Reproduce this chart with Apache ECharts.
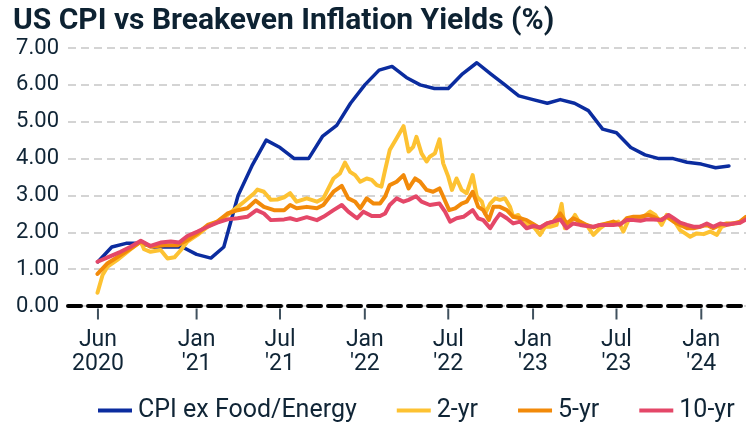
<!DOCTYPE html>
<html>
<head>
<meta charset="utf-8">
<script src="https://cdn.jsdelivr.net/npm/echarts@6/dist/echarts.min.js"></script>
<style>
  html, body { margin: 0; padding: 0; background: #ffffff; }
  #chart { width: 746px; height: 426px; }
</style>
</head>
<body>
<div id="chart"></div>
<script>
// Core CPI, year-over-year %, monthly
const cpiMonths = [
  '2020-06-01','2020-07-01','2020-08-01','2020-09-01','2020-10-01','2020-11-01','2020-12-01',
  '2021-01-01','2021-02-01','2021-03-01','2021-04-01','2021-05-01','2021-06-01','2021-07-01',
  '2021-08-01','2021-09-01','2021-10-01','2021-11-01','2021-12-01',
  '2022-01-01','2022-02-01','2022-03-01','2022-04-01','2022-05-01','2022-06-01','2022-07-01',
  '2022-08-01','2022-09-01','2022-10-01','2022-11-01','2022-12-01',
  '2023-01-01','2023-02-01','2023-03-01','2023-04-01','2023-05-01','2023-06-01','2023-07-01',
  '2023-08-01','2023-09-01','2023-10-01','2023-11-01','2023-12-01',
  '2024-01-01','2024-02-01','2024-03-01'
];
const cpiValues = [
  1.2, 1.6, 1.7, 1.7, 1.6, 1.6, 1.6,
  1.4, 1.3, 1.6, 3.0, 3.8, 4.5, 4.3, 4.0, 4.0, 4.6, 4.9, 5.5,
  6.0, 6.4, 6.5, 6.2, 6.0, 5.9, 5.9, 6.3, 6.6, 6.3, 6.0, 5.7,
  5.6, 5.5, 5.6, 5.5, 5.3, 4.8, 4.7, 4.3, 4.1, 4.0, 4.0, 3.9,
  3.85, 3.75, 3.8
];

// Breakeven inflation yields, %  [date, value]
const be2yr = [
  ['2020-05-31',0.36],['2020-06-11',0.84],['2020-06-22',1.07],['2020-07-13',1.25],['2020-08-11',1.54],
  ['2020-09-02',1.75],['2020-09-09',1.54],['2020-09-23',1.47],['2020-10-15',1.52],['2020-10-30',1.29],
  ['2020-11-14',1.32],['2020-11-28',1.52],['2020-12-12',1.75],['2021-01-03',1.93],['2021-01-25',2.15],
  ['2021-02-15',2.29],['2021-03-09',2.47],['2021-03-31',2.69],['2021-04-14',2.83],['2021-05-06',3.06],
  ['2021-05-13',3.16],['2021-05-27',3.10],['2021-06-11',2.88],['2021-06-25',2.89],['2021-07-10',2.95],
  ['2021-07-23',3.06],['2021-08-06',2.83],['2021-08-28',2.92],['2021-09-19',2.83],['2021-10-03',2.92],
  ['2021-10-25',3.46],['2021-11-08',3.60],['2021-11-19',3.89],['2021-11-30',3.64],['2021-12-11',3.55],
  ['2021-12-22',3.37],['2022-01-05',3.46],['2022-01-16',3.42],['2022-01-27',3.28],['2022-02-06',3.24],
  ['2022-02-14',3.69],['2022-02-24',4.23],['2022-03-11',4.55],['2022-03-26',4.88],['2022-04-06',4.19],
  ['2022-04-16',4.32],['2022-04-23',4.59],['2022-05-04',4.14],['2022-05-15',3.92],['2022-05-22',4.05],
  ['2022-06-02',4.14],['2022-06-12',4.52],['2022-06-20',3.87],['2022-07-01',3.51],['2022-07-09',3.15],
  ['2022-07-19',3.46],['2022-07-30',3.15],['2022-08-10',3.06],['2022-08-23',3.55],['2022-09-01',2.97],
  ['2022-09-12',2.83],['2022-09-19',2.51],['2022-09-30',2.78],['2022-10-11',2.92],['2022-10-21',2.88],
  ['2022-11-01',2.92],['2022-11-12',2.69],['2022-11-19',2.42],['2022-11-30',2.47],['2022-12-11',2.24],
  ['2022-12-26',2.20],['2023-01-05',2.11],['2023-01-16',1.93],['2023-01-27',2.15],['2023-02-07',2.15],
  ['2023-02-21',2.20],['2023-03-04',2.77],['2023-03-11',2.11],['2023-03-22',2.24],['2023-04-02',2.47],
  ['2023-04-13',2.24],['2023-04-27',2.20],['2023-05-12',1.93],['2023-05-26',2.11],['2023-06-10',2.24],
  ['2023-06-24',2.24],['2023-07-05',2.29],['2023-07-16',2.02],['2023-07-27',2.33],['2023-08-14',2.38],
  ['2023-08-29',2.42],['2023-09-12',2.56],['2023-09-23',2.47],['2023-10-07',2.20],['2023-10-18',2.47],
  ['2023-11-02',2.33],['2023-11-16',2.06],['2023-11-27',1.97],['2023-12-08',1.88],['2023-12-22',1.97],
  ['2024-01-06',1.95],['2024-01-20',2.02],['2024-02-04',1.93],['2024-02-14',2.15],['2024-02-25',2.20],
  ['2024-03-11',2.24],['2024-03-25',2.26],['2024-04-07',2.41]
];
const be5yr = [
  ['2020-05-31',0.87],['2020-06-22',1.16],['2020-07-20',1.38],['2020-08-11',1.56],['2020-09-02',1.75],
  ['2020-09-23',1.61],['2020-10-23',1.65],['2020-11-21',1.65],['2020-12-12',1.79],['2021-01-03',1.97],
  ['2021-01-25',2.20],['2021-02-15',2.29],['2021-03-09',2.51],['2021-03-31',2.60],['2021-04-21',2.65],
  ['2021-05-09',2.86],['2021-05-27',2.69],['2021-06-18',2.60],['2021-07-10',2.60],['2021-07-23',2.74],
  ['2021-08-06',2.65],['2021-08-28',2.69],['2021-09-19',2.65],['2021-10-03',2.74],['2021-10-25',3.10],
  ['2021-11-12',3.26],['2021-11-26',2.92],['2021-12-11',2.83],['2021-12-22',2.65],['2022-01-05',2.92],
  ['2022-01-20',2.78],['2022-02-03',2.78],['2022-02-14',2.97],['2022-02-24',3.28],['2022-03-11',3.37],
  ['2022-03-26',3.55],['2022-04-06',3.19],['2022-04-20',3.46],['2022-05-01',3.37],['2022-05-15',3.15],
  ['2022-05-29',3.10],['2022-06-12',3.19],['2022-06-20',2.97],['2022-07-03',2.60],['2022-07-16',2.65],
  ['2022-07-30',2.78],['2022-08-10',2.83],['2022-08-23',3.10],['2022-09-04',2.69],['2022-09-15',2.60],
  ['2022-09-27',2.33],['2022-10-07',2.69],['2022-10-21',2.69],['2022-11-05',2.60],['2022-11-19',2.42],
  ['2022-12-04',2.38],['2022-12-18',2.33],['2023-01-02',2.22],['2023-01-16',2.11],['2023-01-31',2.24],
  ['2023-02-14',2.29],['2023-03-01',2.51],['2023-03-15',2.24],['2023-03-29',2.38],['2023-04-13',2.29],
  ['2023-04-27',2.20],['2023-05-12',2.13],['2023-05-26',2.20],['2023-06-10',2.24],['2023-06-24',2.29],
  ['2023-07-09',2.20],['2023-07-23',2.38],['2023-08-07',2.42],['2023-08-22',2.42],['2023-09-08',2.47],
  ['2023-09-19',2.42],['2023-10-04',2.33],['2023-10-18',2.42],['2023-11-02',2.29],['2023-11-16',2.20],
  ['2023-12-01',2.11],['2023-12-15',2.11],['2023-12-29',2.15],['2024-01-13',2.20],['2024-01-27',2.11],
  ['2024-02-11',2.20],['2024-02-25',2.24],['2024-03-11',2.24],['2024-03-25',2.29],['2024-04-07',2.42]
];
const be10yr = [
  ['2020-05-31',1.20],['2020-06-22',1.32],['2020-07-20',1.47],['2020-08-11',1.61],['2020-09-02',1.77],
  ['2020-09-23',1.63],['2020-10-15',1.72],['2020-11-06',1.75],['2020-11-24',1.72],['2020-12-12',1.90],
  ['2021-01-03',2.02],['2021-01-25',2.15],['2021-02-15',2.26],['2021-03-09',2.35],['2021-03-31',2.38],
  ['2021-04-21',2.42],['2021-05-11',2.60],['2021-05-27',2.51],['2021-06-11',2.33],['2021-07-10',2.35],
  ['2021-07-23',2.38],['2021-08-06',2.33],['2021-08-28',2.41],['2021-09-19',2.33],['2021-10-03',2.42],
  ['2021-10-25',2.60],['2021-11-12',2.74],['2021-11-26',2.56],['2021-12-15',2.38],['2021-12-29',2.56],
  ['2022-01-16',2.44],['2022-02-03',2.44],['2022-02-14',2.51],['2022-02-24',2.74],['2022-03-11',2.92],
  ['2022-03-26',2.83],['2022-04-06',2.88],['2022-04-22',2.98],['2022-05-04',2.83],['2022-05-22',2.74],
  ['2022-06-12',2.78],['2022-06-24',2.56],['2022-07-05',2.29],['2022-07-19',2.38],['2022-08-03',2.42],
  ['2022-08-23',2.60],['2022-09-04',2.38],['2022-09-15',2.33],['2022-09-30',2.11],['2022-10-11',2.33],
  ['2022-10-21',2.50],['2022-11-05',2.38],['2022-11-19',2.24],['2022-12-04',2.29],['2022-12-18',2.11],
  ['2023-01-02',2.17],['2023-01-16',2.13],['2023-01-31',2.24],['2023-02-14',2.29],['2023-03-01',2.35],
  ['2023-03-15',2.11],['2023-03-29',2.24],['2023-04-13',2.20],['2023-04-27',2.17],['2023-05-12',2.15],
  ['2023-05-26',2.20],['2023-06-10',2.20],['2023-06-24',2.20],['2023-07-09',2.22],['2023-07-23',2.33],
  ['2023-08-07',2.33],['2023-08-22',2.31],['2023-09-05',2.35],['2023-09-19',2.35],['2023-10-07',2.33],
  ['2023-10-22',2.47],['2023-11-02',2.38],['2023-11-16',2.26],['2023-12-01',2.20],['2023-12-15',2.15],
  ['2023-12-29',2.15],['2024-01-13',2.24],['2024-01-27',2.15],['2024-02-11',2.24],['2024-02-25',2.20],
  ['2024-03-11',2.24],['2024-03-25',2.26],['2024-04-07',2.35]
];

// Axis ticks along the date axis
const tickDates = ['2020-06-01','2021-01-01','2021-07-01','2022-01-01','2022-07-01','2023-01-01','2023-07-01','2024-01-01'];
const tickLabels = ['Jun\n2020',"Jan\n'21","Jul\n'21","Jan\n'22","Jul\n'22","Jan\n'23","Jul\n'23","Jan\n'24"];

const seriesNames = ['CPI ex Food/Energy', '2-yr', '5-yr', '10-yr'];
const seriesColors = ['#0b2c9f', '#fdc232', '#f28a0a', '#e44768'];

// dates are plotted as day timestamps on a numeric axis
function toTime(s) {
  const p = s.split('-').map(Number);
  return Date.UTC(p[0], p[1] - 1, p[2]);
}
const tickTimes = tickDates.map(toTime);
const DAY = 86400000;

const textColor = '#102536';
const FONT = 'Roboto';

const chart = echarts.init(document.getElementById('chart'), null, { renderer: 'canvas' });

function lineSeries(name, color, data, width) {
  return {
    name: name,
    type: 'line',
    data: data,
    showSymbol: false,
    symbol: 'none',
    lineStyle: { color: color, width: width, join: 'round', cap: 'round' },
    itemStyle: { color: color },
    animation: false,
    silent: true
  };
}

chart.setOption({
  backgroundColor: '#ffffff',
  animation: false,
  title: {
    text: 'US CPI vs Breakeven Inflation Yields (%)',
    left: 8,
    top: 1,
    textStyle: { fontFamily: FONT, fontSize: 30, fontWeight: 'bold', color: '#0d2232' }
  },
  grid: { left: 68, right: 0, top: 48, bottom: 120, containLabel: false },
  legend: {
    data: seriesNames,
    left: 93,
    top: 393,
    icon: 'rect',
    itemWidth: 34,
    itemHeight: 4,
    itemGap: 40,
    textStyle: { fontFamily: FONT, fontSize: 25, color: textColor, padding: [0, 0, 0, 1] }
  },
  xAxis: {
    type: 'value',
    min: toTime('2020-03-28'),
    max: toTime('2024-04-07'),
    axisLine: { show: true, onZero: true, lineStyle: { color: '#000000', width: 4, type: [13, 7] } },
    axisTick: { show: false },
    axisLabel: {
      customValues: tickTimes,
      fontFamily: FONT,
      fontSize: 23,
      color: textColor,
      lineHeight: 24,
      margin: 22,
      showMinLabel: true,
      showMaxLabel: true,
      hideOverlap: false,
      formatter: function (v) {
        for (let i = 0; i < tickTimes.length; i++) {
          if (Math.abs(tickTimes[i] - v) < DAY) return tickLabels[i];
        }
        return '';
      }
    },
    splitLine: { show: false }
  },
  yAxis: {
    type: 'value',
    min: 0,
    max: 7,
    interval: 1,
    axisLine: { show: false },
    axisTick: { show: false },
    axisLabel: {
      fontFamily: FONT,
      fontSize: 22,
      color: textColor,
      margin: 9,
      formatter: function (v) { return v.toFixed(2); }
    },
    splitLine: { show: true, lineStyle: { color: '#d4d4d4', width: 2, type: [8, 5] } }
  },
  series: [
    lineSeries(seriesNames[0], seriesColors[0], cpiMonths.map((d, i) => [toTime(d), cpiValues[i]]), 3.5),
    lineSeries(seriesNames[1], seriesColors[1], be2yr.map(p => [toTime(p[0]), p[1]]), 4),
    lineSeries(seriesNames[2], seriesColors[2], be5yr.map(p => [toTime(p[0]), p[1]]), 4),
    lineSeries(seriesNames[3], seriesColors[3], be10yr.map(p => [toTime(p[0]), p[1]]), 4),
    {
      // short date ticks hanging below the zero line
      name: 'ticks',
      type: 'scatter',
      data: tickTimes.map(t => [t, 0]),
      symbol: 'rect',
      symbolSize: [2, 11],
      symbolOffset: [0, 8],
      itemStyle: { color: textColor },
      clip: false,
      silent: true,
      z: 1
    }
  ]
});
</script>
</body>
</html>
